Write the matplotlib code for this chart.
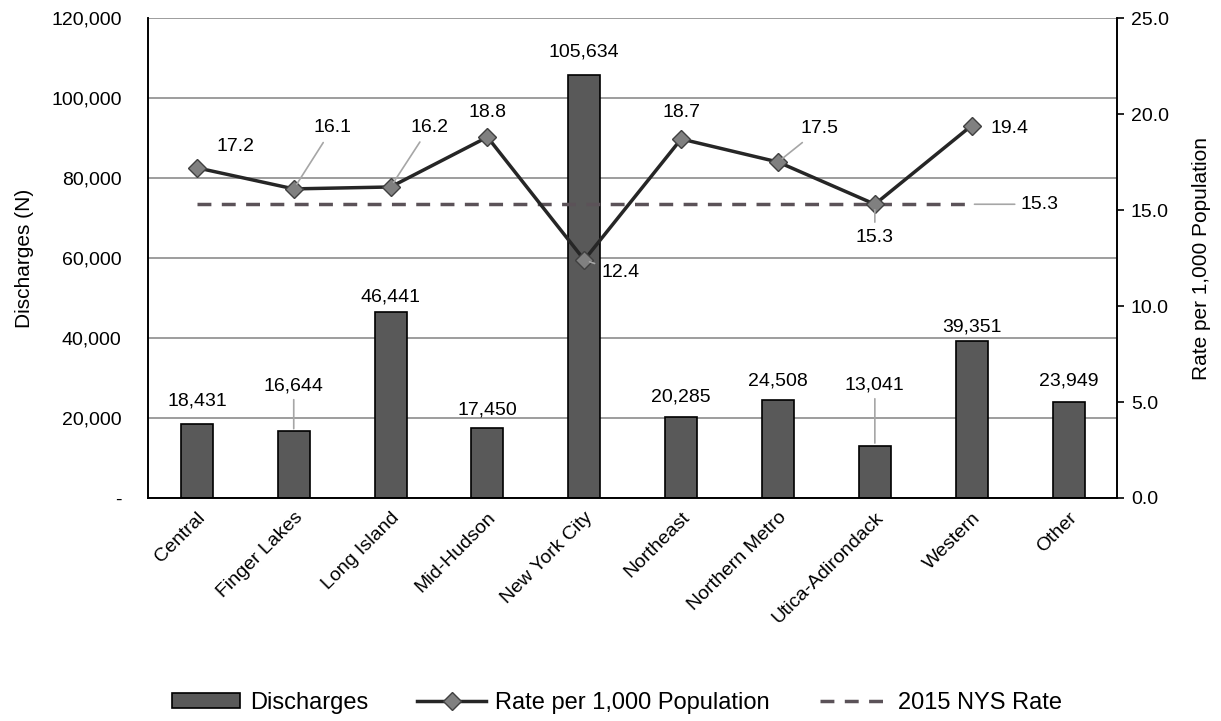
import matplotlib
matplotlib.use("Agg")
import matplotlib.pyplot as plt
from matplotlib.ticker import FuncFormatter, MultipleLocator
from matplotlib.lines import Line2D
from matplotlib.patches import Patch

plt.rcParams['font.family'] = ['Liberation Sans', 'DejaVu Sans']
plt.rcParams['font.size'] = 14

regions = ['Central', 'Finger Lakes', 'Long Island', 'Mid-Hudson', 'New York City',
           'Northeast', 'Northern Metro', 'Utica-Adirondack', 'Western', 'Other']
discharges = [18431, 16644, 46441, 17450, 105634, 20285, 24508, 13041, 39351, 23949]
rates = [17.2, 16.1, 16.2, 18.8, 12.4, 18.7, 17.5, 15.3, 19.4]
nys_rate = 15.3

# label offsets in points (dx, dy) and whether a leader line is drawn
bar_offsets = [(0, 17), (0, 33), (0, 11), (0, 13), (0, 17), (0, 14), (0, 14), (0, 44), (0, 10), (0, 15)]
bar_leader = [False, True, False, False, False, False, False, True, False, False]
rate_offsets = [(28, 15), (28, 44), (28, 43), (0, 18), (26, -9), (0, 19), (30, 24), (0, -24), (27, -2)]
rate_leader = [False, True, True, False, True, False, True, True, False]

fig = plt.figure(figsize=(12.21, 7.21), dpi=100)
ax = fig.add_axes([0.1212, 0.3093, 0.7936, 0.6657])
ax2 = ax.twinx()

x = list(range(len(regions)))
ax.bar(x, discharges, width=0.33, color='#595959', edgecolor='black', linewidth=1.2, zorder=2)
ax.set_ylim(0, 120000)
ax.set_xlim(-0.505, 9.5)
ax.yaxis.set_major_locator(MultipleLocator(20000))
ax.yaxis.set_major_formatter(FuncFormatter(lambda v, p: '-' if v == 0 else f'{int(v):,}'))
ax.grid(axis='y', color='#8c8c8c', linewidth=1.2, zorder=0)
ax.set_axisbelow(True)
ax.set_ylabel('Discharges (N)', fontsize=15, labelpad=12)
ax.set_xticks(x)
ax.set_xticklabels(regions, rotation=45, ha='right', rotation_mode='anchor')
ax.tick_params(axis='x', length=0, pad=8)
ax.tick_params(axis='y', length=0, pad=19)

for i, v in enumerate(discharges):
    dx, dy = bar_offsets[i]
    arrow = dict(arrowstyle='-', color='#a6a6a6', lw=1.2, shrinkA=2, shrinkB=2) if bar_leader[i] else None
    ax.annotate(f'{v:,}', (i, v), xytext=(dx, dy), textcoords='offset points',
                ha='center', va='center', arrowprops=arrow, zorder=5)

ax2.plot(range(len(rates)), rates, color='#262626', linewidth=2.5, marker='D', markersize=9,
         markerfacecolor='#808080', markeredgecolor='#404040', markeredgewidth=1, zorder=4)
ax2.plot([0, len(rates) - 1], [nys_rate, nys_rate], color='#5b5258', linewidth=2.5,
         linestyle=(0, (4, 3)), zorder=3)
ax2.set_ylim(0, 25)
ax2.yaxis.set_major_locator(MultipleLocator(5))
ax2.yaxis.set_major_formatter(FuncFormatter(lambda v, p: f'{v:.1f}'))
ax2.set_ylabel('Rate per 1,000 Population', fontsize=15, labelpad=17)
ax2.tick_params(axis='y', length=5, width=1.2, pad=5)

for i, r in enumerate(rates):
    dx, dy = rate_offsets[i]
    arrow = dict(arrowstyle='-', color='#a6a6a6', lw=1.2, shrinkA=3, shrinkB=4) if rate_leader[i] else None
    ax2.annotate(f'{r:.1f}', (i, r), xytext=(dx, dy), textcoords='offset points',
                 ha='center', va='center', arrowprops=arrow, zorder=5)

ax2.annotate(f'{nys_rate:.1f}', (len(rates) - 1, nys_rate), xytext=(35, 0), textcoords='offset points',
             ha='left', va='center',
             arrowprops=dict(arrowstyle='-', color='#a6a6a6', lw=1.2, shrinkA=2, shrinkB=2))

for a in (ax, ax2):
    a.spines['top'].set_visible(False)
    for s in ('left', 'right', 'bottom'):
        a.spines[s].set_color('black')
        a.spines[s].set_linewidth(1.2)

handles = [Patch(facecolor='#595959', edgecolor='black', linewidth=1.2),
           Line2D([], [], color='#262626', linewidth=2.5, marker='D', markersize=9,
                  markerfacecolor='#808080', markeredgecolor='#404040'),
           Line2D([], [], color='#5b5258', linewidth=2.5, linestyle=(0, (4, 3)))]
fig.legend(handles, ['Discharges', 'Rate per 1,000 Population', '2015 NYS Rate'],
           loc='center', bbox_to_anchor=(0.505, 0.025), ncol=3, frameon=False,
           fontsize=17, handlelength=2.9, handleheight=0.6, columnspacing=2.1,
           handletextpad=0.4)

fig.savefig('out.png', dpi=100)
